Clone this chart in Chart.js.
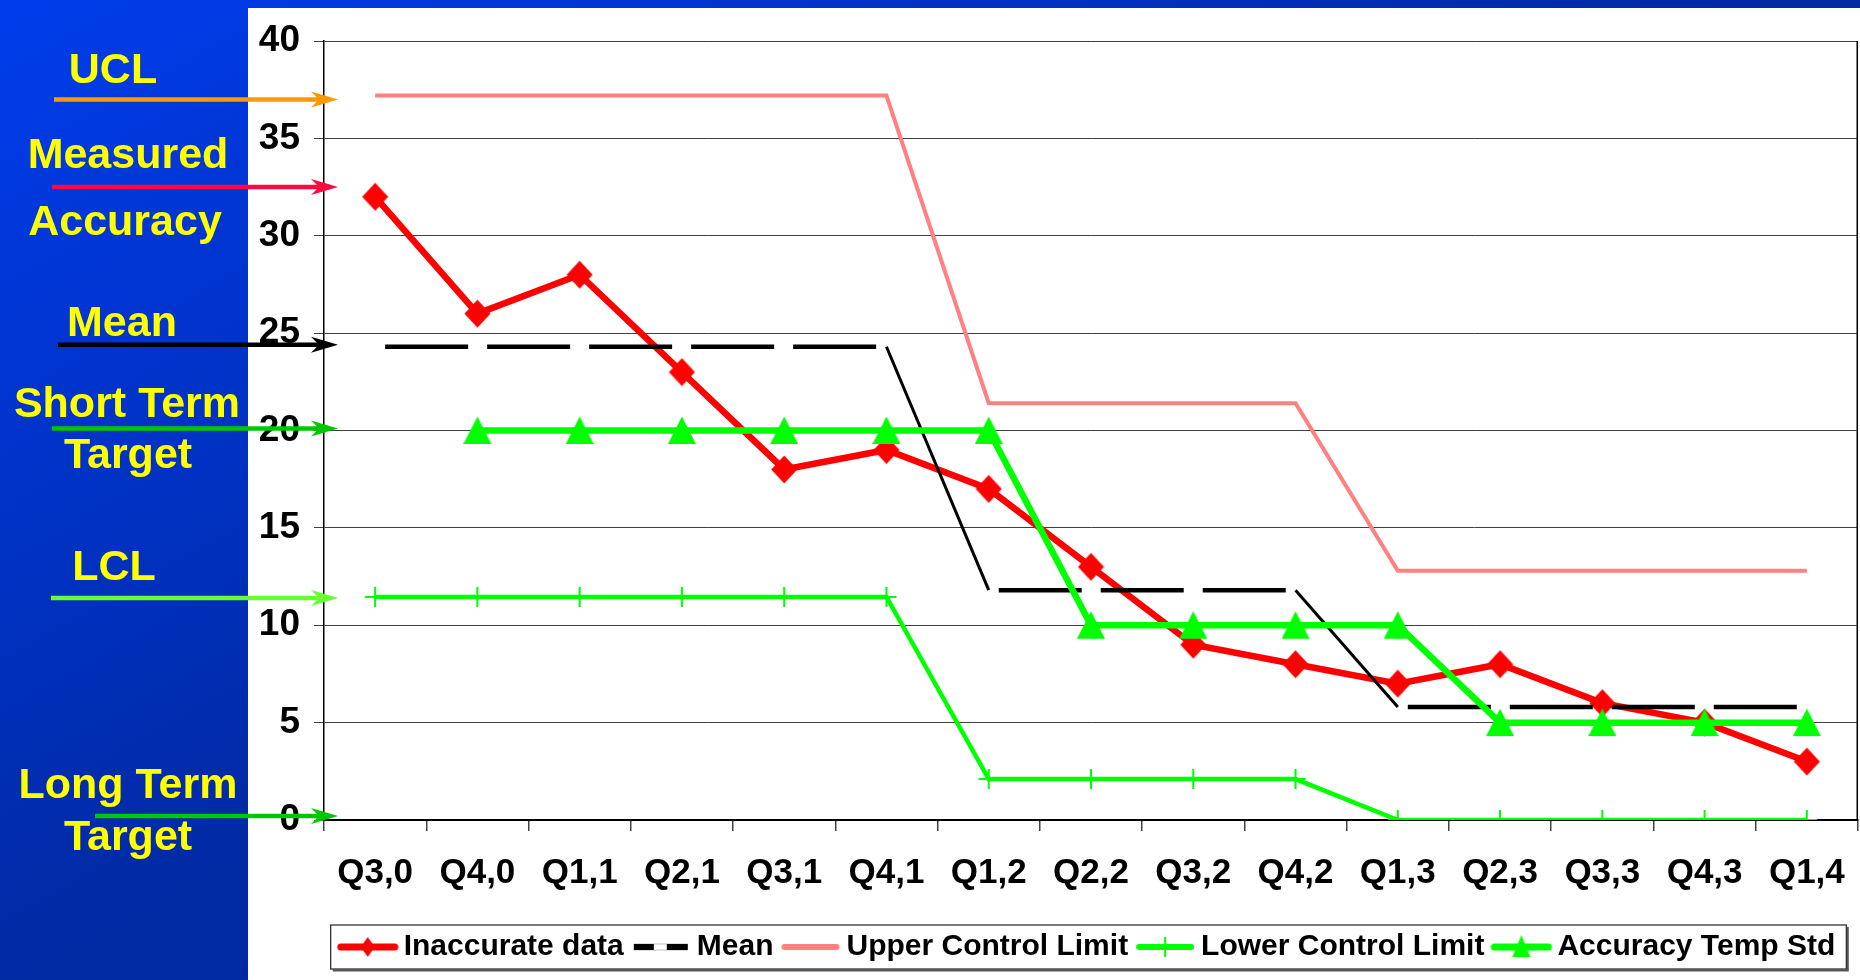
<!DOCTYPE html>
<html>
<head>
<meta charset="utf-8">
<script src="https://cdn.jsdelivr.net/npm/chart.js@4.4.1/dist/chart.umd.min.js"></script>
<style>
html,body{margin:0;padding:0;}
body{width:1860px;height:980px;overflow:hidden;
background:linear-gradient(150.8deg,#003DEB 0%,#0034CF 20%,#002BA6 47%,#00289A 100%);}
#c{display:block;position:absolute;left:0;top:0;}
</style>
</head>
<body>
<canvas id="c" width="1860" height="980"></canvas>
<script>
// ---------- data ----------
const categories = ['Q3,0','Q4,0','Q1,1','Q2,1','Q3,1','Q4,1','Q1,2','Q2,2','Q3,2','Q4,2','Q1,3','Q2,3','Q3,3','Q4,3','Q1,4'];
const inaccurateData = [32, 26, 28, 23, 18, 19, 17, 13, 9, 8, 7, 8, 6, 5, 3];
const meanValues = [24.3, 24.3, 24.3, 24.3, 24.3, 24.3, 11.8, 11.8, 11.8, 11.8, 5.8, 5.8, 5.8, 5.8, 5.8];
const uclValues = [37.2, 37.2, 37.2, 37.2, 37.2, 37.2, 21.4, 21.4, 21.4, 21.4, 12.8, 12.8, 12.8, 12.8, 12.8];
const lclValues = [11.45, 11.45, 11.45, 11.45, 11.45, 11.45, 2.1, 2.1, 2.1, 2.1, 0, 0, 0, 0, 0];
const accuracyTempStd = [null, 20, 20, 20, 20, 20, 20, 10, 10, 10, 10, 5, 5, 5, 5];
const seriesNames = ['Inaccurate data', 'Mean', 'Upper Control Limit', 'Lower Control Limit', 'Accuracy Temp Std'];
const yMin = 0, yMax = 40, yStep = 5;

// side annotations (text + the value each arrow points at)
const sideLabels = ['UCL', 'Measured', 'Accuracy', 'Mean', 'Short Term', 'Target', 'LCL', 'Long Term', 'Target'];
const sideArrowValues = [37.0, 32.5, 24.4, 20.1, 11.4, 0.2];

// ---------- layout / style (not data) ----------
const FONT = '"Liberation Sans", Arial, sans-serif';
const sideLabelX = [113, 128, 125, 122, 127, 128, 114, 128, 128];
const sideLabelBase = [83, 168, 235, 336, 417, 468, 580, 798, 850];
const arrowStartX = [54, 52, 58, 52, 51, 95];
const arrowColors = ['#FF9900', '#FF0A3C', '#000000', '#00C800', '#66FF33', '#00C800'];
const ARROW_TIP_X = 338;

function makeCanvas(w, h, draw) {
  const c = document.createElement('canvas');
  c.width = w; c.height = h;
  draw(c.getContext('2d'), w, h);
  return c;
}
const diamondMark = makeCanvas(27, 29, (g, w, h) => {
  g.fillStyle = '#FF0000';
  g.beginPath(); g.moveTo(w / 2, 0.5); g.lineTo(w - 0.5, h / 2); g.lineTo(w / 2, h - 0.5); g.lineTo(0.5, h / 2); g.closePath(); g.fill();
});
const triangleMark = makeCanvas(28, 29, (g, w, h) => {
  g.fillStyle = '#00FF00';
  g.beginPath(); g.moveTo(w / 2, 0.5); g.lineTo(w, h - 1); g.lineTo(0, h - 1); g.closePath(); g.fill();
});

// legend samples (line + marker)
const LW = 62, LH = 30;
const legendSamples = [
  makeCanvas(LW, LH, (g, w, h) => {
    g.strokeStyle = '#FF0000'; g.lineWidth = 7; g.lineCap = 'round';
    g.beginPath(); g.moveTo(4, h / 2); g.lineTo(w - 4, h / 2); g.stroke();
    g.fillStyle = '#FF0000';
    g.beginPath(); g.moveTo(w / 2, h / 2 - 10); g.lineTo(w / 2 + 7, h / 2); g.lineTo(w / 2, h / 2 + 10); g.lineTo(w / 2 - 7, h / 2); g.closePath(); g.fill();
  }),
  makeCanvas(LW, LH, (g, w, h) => {
    g.strokeStyle = '#BBBBBB'; g.lineWidth = 7;
    g.beginPath(); g.moveTo(4, h / 2); g.lineTo(w - 4, h / 2); g.stroke();
    g.strokeStyle = '#FFFFFF'; g.lineWidth = 5;
    g.beginPath(); g.moveTo(4, h / 2); g.lineTo(w - 4, h / 2); g.stroke();
    g.strokeStyle = '#000000'; g.lineWidth = 6;
    g.beginPath(); g.moveTo(4, h / 2); g.lineTo(24, h / 2); g.moveTo(37, h / 2); g.lineTo(w - 4, h / 2); g.stroke();
  }),
  makeCanvas(LW, LH, (g, w, h) => {
    g.strokeStyle = '#FF8080'; g.lineWidth = 6; g.lineCap = 'round';
    g.beginPath(); g.moveTo(5, h / 2); g.lineTo(w - 5, h / 2); g.stroke();
  }),
  makeCanvas(LW, LH, (g, w, h) => {
    g.strokeStyle = '#00FF00'; g.lineWidth = 6; g.lineCap = 'round';
    g.beginPath(); g.moveTo(5, h / 2); g.lineTo(w - 5, h / 2); g.stroke();
    g.lineWidth = 2; g.lineCap = 'butt';
    g.beginPath(); g.moveTo(w / 2, h / 2 - 10); g.lineTo(w / 2, h / 2 + 10); g.stroke();
  }),
  makeCanvas(LW, LH, (g, w, h) => {
    g.strokeStyle = '#00FF00'; g.lineWidth = 7; g.lineCap = 'round';
    g.beginPath(); g.moveTo(4, h / 2); g.lineTo(w - 4, h / 2); g.stroke();
    g.fillStyle = '#00FF00';
    g.beginPath(); g.moveTo(w / 2, h / 2 - 12); g.lineTo(w / 2 + 9, h / 2 + 10); g.lineTo(w / 2 - 9, h / 2 + 10); g.closePath(); g.fill();
  })
];

function drawArrow(ctx, x0, y, x1, color) {
  ctx.strokeStyle = color; ctx.fillStyle = color;
  ctx.lineWidth = 4.5; ctx.lineCap = 'butt';
  ctx.beginPath(); ctx.moveTo(x0, y); ctx.lineTo(x1 - 8, y); ctx.stroke();
  ctx.beginPath();
  ctx.moveTo(x1, y);
  ctx.lineTo(x1 - 27, y - 8);
  ctx.lineTo(x1 - 19, y);
  ctx.lineTo(x1 - 27, y + 8);
  ctx.closePath(); ctx.fill();
}

const decor = {
  id: 'decor',
  beforeDraw(chart) {
    const ctx = chart.ctx;
    ctx.save();
    ctx.fillStyle = '#FFFFFF';
    ctx.fillRect(248, 8, 1612, 972);
    ctx.restore();
  },
  afterDraw(chart) {
    const {ctx, chartArea} = chart;
    const y = chart.scales.y;
    ctx.save();
    // right frame line
    ctx.strokeStyle = '#000'; ctx.lineWidth = 1.5;
    ctx.beginPath(); ctx.moveTo(chartArea.right - 0.75, chartArea.top); ctx.lineTo(chartArea.right - 0.75, chartArea.bottom); ctx.stroke();
    // legend frame
    const hb = chart.legend.legendHitBoxes;
    if (hb && hb.length) {
      const l = hb[0].left - 16, r = hb[hb.length - 1].left + hb[hb.length - 1].width + 11;
      const t = hb[0].top - 7, b = hb[0].top + 37;
      ctx.strokeStyle = '#555555'; ctx.lineWidth = 2;
      ctx.beginPath(); ctx.moveTo(l + 2, b + 1.5); ctx.lineTo(r + 1.5, b + 1.5); ctx.lineTo(r + 1.5, t + 2); ctx.stroke();
      ctx.strokeStyle = '#222222'; ctx.lineWidth = 1.2;
      ctx.strokeRect(l, t, r - l, b - t);
    }
    // side labels
    ctx.font = 'bold 43px ' + FONT;
    ctx.fillStyle = '#FFFF00'; ctx.textAlign = 'center'; ctx.textBaseline = 'alphabetic';
    sideLabels.forEach((t, i) => ctx.fillText(t, sideLabelX[i], sideLabelBase[i]));
    // arrows
    sideArrowValues.forEach((v, i) => drawArrow(ctx, arrowStartX[i], y.getPixelForValue(v), ARROW_TIP_X, arrowColors[i]));
    ctx.restore();
  }
};

const flat = c => c.p0.parsed.y === c.p1.parsed.y;

new Chart(document.getElementById('c'), {
  type: 'line',
  data: {
    labels: categories,
    datasets: [
      { label: seriesNames[0], data: inaccurateData, order: 4,
        borderColor: '#FF0000', backgroundColor: '#FF0000', borderWidth: 6.5,
        pointStyle: diamondMark, pointRadius: 12, tension: 0 },
      { label: seriesNames[1], data: meanValues, order: 3,
        borderColor: '#000000', backgroundColor: '#000000', borderWidth: 3, pointRadius: 0,
        segment: {
          borderWidth: c => flat(c) ? 4.5 : 3,
          borderDash: c => flat(c) ? [83, 19] : [],
          borderDashOffset: c => flat(c) ? 92 : 0
        } },
      { label: seriesNames[2], data: uclValues, order: 2,
        borderColor: '#FF8080', backgroundColor: '#FF8080', borderWidth: 4, pointRadius: 0 },
      { label: seriesNames[3], data: lclValues, order: 1,
        borderColor: '#00FF00', backgroundColor: '#00FF00', borderWidth: 4.5,
        pointStyle: 'cross', pointRadius: 10, pointBorderWidth: 2, pointBorderColor: '#00FF00' },
      { label: seriesNames[4], data: accuracyTempStd, order: 0,
        borderColor: '#00FF00', backgroundColor: '#00FF00', borderWidth: 6.5,
        pointStyle: triangleMark, pointRadius: 12 }
    ]
  },
  options: {
    responsive: false,
    animation: false,
    devicePixelRatio: 1,
    events: [],
    layout: { autoPadding: false, padding: { left: 248, top: 41, right: 2, bottom: 8 } },
    scales: {
      x: {
        type: 'category',
        offset: true,
        grid: { offset: true, drawOnChartArea: false, drawTicks: true, tickLength: 11, color: '#444444', lineWidth: 1.5 },
        border: { display: true, color: '#000000', width: 2 },
        ticks: { color: '#000', font: { family: FONT, size: 35, weight: 'bold', lineHeight: 2.4 }, padding: 0, maxRotation: 0, autoSkip: false },
        afterFit: s => { s.height = 96; }
      },
      y: {
        min: yMin, max: yMax,
        grid: { color: '#404040', lineWidth: 1, tickLength: 10, drawTicks: true },
        border: { display: true, color: '#000000', width: 1.5 },
        ticks: { stepSize: yStep, color: '#000', font: { family: FONT, size: 37, weight: 'bold' }, padding: 14 },
        afterFit: s => { s.width = 76; }
      }
    },
    plugins: {
      tooltip: { enabled: false },
      legend: {
        position: 'bottom',
        fullSize: false,
        labels: {
          usePointStyle: true,
          pointStyleWidth: 42,
          boxHeight: 30,
          padding: 16,
          color: '#000',
          font: { family: FONT, size: 30, weight: 'bold' },
          sort: (a, b) => a.datasetIndex - b.datasetIndex,
          generateLabels: chart => {
            const items = Chart.defaults.plugins.legend.labels.generateLabels(chart);
            items.forEach(it => { it.pointStyle = legendSamples[it.datasetIndex]; it.lineWidth = 0; it.rotation = 0; });
            return items;
          }
        }
      }
    }
  },
  plugins: [decor]
});
</script>
</body>
</html>
